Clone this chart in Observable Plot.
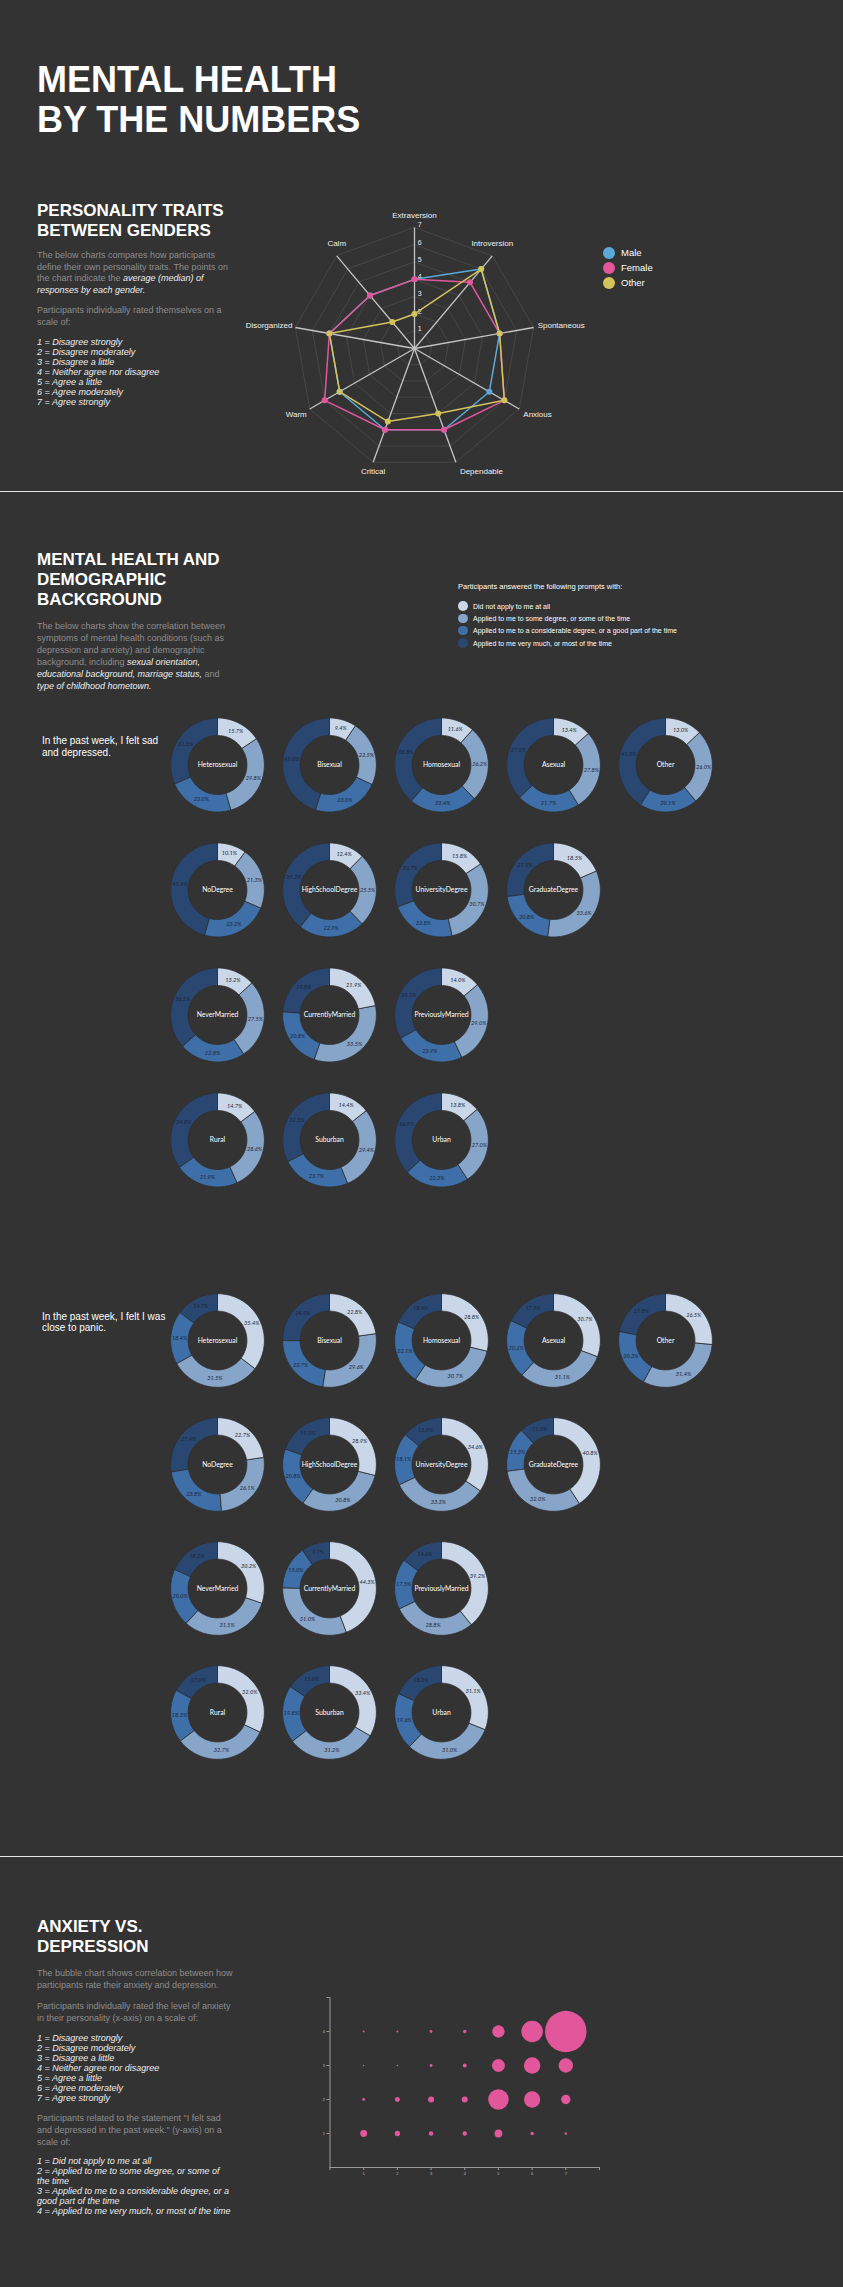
<!DOCTYPE html>
<html><head><meta charset="utf-8">
<script src="https://cdn.jsdelivr.net/npm/d3@7"></script>
<script src="https://cdn.jsdelivr.net/npm/@observablehq/plot@0.6"></script>
<style>
html,body{margin:0;padding:0;background:#333;}
#page{position:relative;width:843px;height:2287px;background:#333;overflow:hidden;font-family:"Liberation Sans",Arial,Helvetica,sans-serif;}
.abs{position:absolute;}
.title{left:37px;top:59.5px;font-size:36px;line-height:40px;font-weight:bold;color:#fff;white-space:nowrap;}
.h2{left:37px;font-size:17px;line-height:20px;font-weight:bold;color:#fff;white-space:nowrap;}
.p{left:37px;font-size:9px;line-height:11.5px;color:#8d8d8d;white-space:nowrap;}
.p i{color:#eee;}
.p12{line-height:12px;}
.list{left:37px;font-size:9px;line-height:10px;font-style:italic;color:#eee;white-space:nowrap;}
.hr{left:0;width:843px;height:1px;background:#e6e6e6;}
.blabel{left:42px;font-size:10px;line-height:11.5px;color:#fff;white-space:nowrap;}
.leg{display:flex;align-items:center;white-space:nowrap;}
.dotc{display:inline-block;border-radius:50%;}
</style></head><body><div id="page">

<div class="abs title">MENTAL HEALTH<br>BY THE NUMBERS</div>

<div class="abs h2" style="top:201px">PERSONALITY TRAITS<br>BETWEEN GENDERS</div>
<div class="abs p" style="top:250.4px">The below charts compares how participants<br>define their own personality traits. The points on<br>the chart indicate the <i>average (median) of<br>responses by each gender.</i></div>
<div class="abs p" style="top:303.5px;line-height:12.3px">Participants individually rated themselves on a<br>scale of:</div>
<div class="abs list" style="top:337.4px">1 = Disagree strongly<br>2 = Disagree moderately<br>3 = Disagree a little<br>4 = Neither agree nor disagree<br>5 = Agree a little<br>6 = Agree moderately<br>7 = Agree strongly</div>
<div id="radar" class="abs" style="left:214px;top:198px"></div>
<div id="radarLegend" class="abs" style="left:603px;top:245px"></div>

<div class="abs hr" style="top:491px"></div>

<div class="abs h2" style="top:550px">MENTAL HEALTH AND<br>DEMOGRAPHIC<br>BACKGROUND</div>
<div class="abs p p12" style="top:620.4px">The below charts show the correlation between<br>symptoms of mental health conditions (such as<br>depression and anxiety) and demographic<br>background, including <i>sexual orientation,<br>educational background, marriage status,</i> and<br><i>type of childhood hometown.</i></div>
<div id="donutLegend" class="abs" style="left:458px;top:581.5px"></div>

<div class="abs blabel" style="top:735px">In the past week, I felt sad<br>and depressed.</div>
<div id="block1" class="abs" style="left:0;top:701.8px"></div>
<div class="abs blabel" style="top:1310.5px">In the past week, I felt I was<br>close to panic.</div>
<div id="block2" class="abs" style="left:0;top:1276.75px"></div>

<div class="abs hr" style="top:1856px"></div>

<div class="abs h2" style="top:1917px">ANXIETY VS.<br>DEPRESSION</div>
<div class="abs p p12" style="top:1967.2px">The bubble chart shows correlation between how<br>participants rate their anxiety and depression.</div>
<div class="abs p p12" style="top:2000.2px">Participants individually rated the level of anxiety<br>in their personality (x-axis) on a scale of:</div>
<div class="abs list" style="top:2032.5px">1 = Disagree strongly<br>2 = Disagree moderately<br>3 = Disagree a little<br>4 = Neither agree nor disagree<br>5 = Agree a little<br>6 = Agree moderately<br>7 = Agree strongly</div>
<div class="abs p p12" style="top:2112.2px">Participants related to the statement "I felt sad<br>and depressed in the past week." (y-axis) on a<br>scale of:</div>
<div class="abs list" style="top:2155.9px">1 = Did not apply to me at all<br>2 = Applied to me to some degree, or some of<br>the time<br>3 = Applied to me to a considerable degree, or a<br>good part of the time<br>4 = Applied to me very much, or most of the time</div>
<div id="bubble" class="abs" style="left:300px;top:1980px"></div>

</div>
<script>
// ---------- DATA ----------
const traits = ["Extraversion","Introversion","Spontaneous","Anxious","Dependable","Critical","Warm","Disorganized","Calm"];
const genders = ["Male","Female","Other"];
const genderColors = ["#5aa9d8","#e2579b","#d3c35b"];
const maleMedians   = [4, 6, 5, 5, 5, 5, 5, 5, 4];
const femaleMedians = [4, 5, 5, 6, 5, 5, 6, 5, 4];
const otherMedians  = [2, 6, 5, 6, 4, 4.5, 5, 5, 2];
const radarTicks = [1,2,3,4,5,6,7];

const levels = ["Did not apply to me at all","Applied to me to some degree, or some of the time","Applied to me to a considerable degree, or a good part of the time","Applied to me very much, or most of the time"];
const levelColors = ["#c9d7e8","#87a4c9","#3e6fa8","#294771"];

const orientations = ["Heterosexual","Bisexual","Homosexual","Asexual","Other"];
const education = ["NoDegree","HighSchoolDegree","UniversityDegree","GraduateDegree"];
const marriage = ["NeverMarried","CurrentlyMarried","PreviouslyMarried"];
const hometown = ["Rural","Suburban","Urban"];

// "In the past week, I felt sad and depressed." (%)
const sadOrientation = [[15.7,29.8,23.0,31.5],[9.4,22.5,23.0,45.0],[11.6,26.2,23.4,38.8],[13.4,27.8,21.7,37.0],[13.0,26.0,20.1,41.0]];
const sadEducation = [[10.1,21.3,23.2,45.4],[12.4,25.5,22.9,39.2],[15.8,30.7,22.8,30.7],[18.5,33.6,20.8,27.1]];
const sadMarriage = [[13.2,27.5,22.8,36.5],[21.9,33.5,20.8,23.8],[14.0,29.0,23.9,33.1]];
const sadHometown = [[14.7,28.6,21.9,34.8],[14.4,29.4,23.7,32.5],[13.8,27.0,22.3,36.9]];

// "In the past week, I felt I was close to panic." (%)
const panicOrientation = [[35.4,31.5,18.4,14.7],[22.8,29.6,22.7,24.9],[28.8,30.7,22.1,18.4],[30.7,31.1,20.2,17.9],[26.5,31.4,20.3,21.8]];
const panicEducation = [[22.7,26.1,23.8,27.4],[28.9,30.8,20.8,19.5],[34.6,33.3,18.1,13.9],[40.8,32.0,15.3,11.9]];
const panicMarriage = [[30.2,31.5,20.0,18.2],[44.3,31.0,15.0,9.7],[39.2,28.8,17.5,14.6]];
const panicHometown = [[32.0,32.7,18.3,17.0],[33.4,31.2,19.8,15.6],[31.1,31.0,19.6,18.3]];

// Bubble chart: anxiety (x) vs depression (y), relative counts
const anxietyLevels = [1,2,3,4,5,6,7];
const depressionLevels = [1,2,3,4];
const bubbleCounts = [
  [12, 7, 5, 5, 15, 3, 1.5],     // depression 1
  [2, 6, 9, 9, 105, 66, 22],     // depression 2
  [0.5, 0.6, 2, 4, 42, 68, 52],  // depression 3
  [1, 1, 2, 3, 38, 116, 428]     // depression 4
];

// ---------- RADAR ----------
(function(){
  const U = 121/7; // px per unit
  const W = 400, H = 300;
  const n = traits.length;
  const ang = i => i * 2 * Math.PI / n;
  const medians = [maleMedians, femaleMedians, otherMedians];
  const rings = radarTicks.flatMap(l => traits.map((t,i) => ({level:l, x:l*Math.sin(ang(i)), y:l*Math.cos(ang(i))})));
  const spokes = traits.map((t,i) => ({t, x2:7*Math.sin(ang(i)), y2:7*Math.cos(ang(i))}));
  const pts = genders.flatMap((g,gi) => traits.map((t,i) => ({gender:g, trait:t, v:medians[gi][i], x:medians[gi][i]*Math.sin(ang(i)), y:medians[gi][i]*Math.cos(ang(i))})));
  const lab = traits.map((t,i) => {
    const s = Math.sin(ang(i)), c = Math.cos(ang(i));
    let anchor, dx, dy;
    if (c > 0.5) { anchor = "middle"; dx = 0; dy = -12; }
    else if (s > 0.01) { anchor = "start"; dx = 4; dy = -c*10; }
    else if (c < -0.9) { anchor = "middle"; dx = 0; dy = 9; }
    else { anchor = "end"; dx = -3; dy = -c*10; }
    return {t, anchor, x: 7*s + dx/U, y: 7*c - dy/U};
  });
  const txt = a => Plot.text(lab.filter(d => d.anchor === a), {x:"x", y:"y", text:"t", textAnchor:a, fill:"#f0f0f0", fontSize:8});
  const chart = Plot.plot({
    width: W, height: H, margin: 0,
    x: {domain:[-W/2/U, W/2/U], axis:null},
    y: {domain:[-H/2/U, H/2/U], axis:null},
    color: {domain: genders, range: genderColors},
    style: {background:"transparent", fontFamily:"'Liberation Sans', Arial, sans-serif"},
    marks: [
      Plot.line(rings, {x:"x", y:"y", z:"level", curve:"linear-closed", stroke:"#4b4b4b", strokeWidth:0.8}),
      Plot.link(spokes, {x1:0, y1:0, x2:"x2", y2:"y2", stroke:"#c4c4c4", strokeWidth:1.3}),
      Plot.text(radarTicks, {x:0, y:d => d, text:d => String(d), dx:3.3, dy:-2.5, textAnchor:"start", fill:"#eee", fontSize:7}),
      Plot.line(pts, {x:"x", y:"y", z:"gender", stroke:"gender", curve:"linear-closed", strokeWidth:1.5}),
      Plot.dot(pts, {x:"x", y:"y", fill:"gender", r:3}),
      txt("middle"), txt("start"), txt("end")
    ]
  });
  document.getElementById("radar").appendChild(chart);
  const lg = document.getElementById("radarLegend");
  genders.forEach((g,i) => {
    const row = document.createElement("div");
    row.className = "leg";
    row.style.cssText = "height:15px;font-size:9.5px;color:#fff;";
    row.innerHTML = `<span class="dotc" style="width:12px;height:12px;background:${genderColors[i]};margin-right:6px"></span>${g}`;
    lg.appendChild(row);
  });
})();

// ---------- DONUT LEGEND ----------
(function(){
  const lg = document.getElementById("donutLegend");
  const head = document.createElement("div");
  head.style.cssText = "font-size:7.5px;line-height:10px;color:#fff;height:18.5px;white-space:nowrap";
  head.textContent = "Participants answered the following prompts with:";
  lg.appendChild(head);
  levels.forEach((l,i) => {
    const row = document.createElement("div");
    row.className = "leg";
    row.style.cssText = "height:12.3px;font-size:7px;color:#fff;";
    row.innerHTML = `<span class="dotc" style="width:9.5px;height:9.5px;background:${levelColors[i]};margin-left:0px;margin-right:5.5px"></span>${l}`;
    lg.appendChild(row);
  });
})();

// ---------- DONUTS ----------
function donutBlock(rowCats, rowVals, pitch) {
  const RIN = 29.5/47;
  const polys = [], labels = [], names = [];
  rowCats.forEach((cats, row) => cats.forEach((cat, col) => {
    const vals = rowVals[row][col];
    const total = d3.sum(vals);
    let a = 0;
    vals.forEach((v, k) => {
      const a0 = a, a1 = a + v / total * 2 * Math.PI; a = a1;
      const n = Math.max(2, Math.ceil((a1 - a0) / (Math.PI / 90)));
      const key = `${row}-${col}-${k}`;
      for (let j = 0; j <= n; j++) { const t = a0 + (a1 - a0) * j / n; polys.push({key, row, col, level:levels[k], x:Math.sin(t), y:Math.cos(t)}); }
      for (let j = n; j >= 0; j--) { const t = a0 + (a1 - a0) * j / n; polys.push({key, row, col, level:levels[k], x:RIN*Math.sin(t), y:RIN*Math.cos(t)}); }
      const m = (a0 + a1) / 2, rm = (1 + RIN) / 2;
      labels.push({row, col, x:rm*Math.sin(m), y:rm*Math.cos(m), text:v.toFixed(1) + "%"});
    });
    names.push({row, col, name:cat});
  }));
  const cell = 112.3, unit = 47, left = 160.25;
  return Plot.plot({
    width: 843, height: pitch * 4,
    marginLeft: left, marginRight: 843 - left - 5 * cell, marginTop: 0, marginBottom: 0,
    fx: {domain:[0,1,2,3,4], padding:0, axis:null},
    fy: {domain:[0,1,2,3], padding:0, axis:null},
    x: {domain:[-cell/2/unit, cell/2/unit], axis:null},
    y: {domain:[-pitch/2/unit, pitch/2/unit], axis:null},
    color: {domain: levels, range: levelColors},
    style: {background:"transparent", fontFamily:"Lato, 'Open Sans', sans-serif"},
    marks: [
      Plot.line(polys, {x:"x", y:"y", z:"key", fill:"level", stroke:"#2f2f2f", strokeWidth:0.8, curve:"linear-closed", fx:"col", fy:"row"}),
      Plot.text(labels, {x:"x", y:"y", text:"text", fx:"col", fy:"row", fill:"#1d2536", fontSize:5.6, fontStyle:"italic"}),
      Plot.text(names, {x:0, y:0, text:"name", fx:"col", fy:"row", fill:"#fff", fontSize:6.8})
    ]
  });
}
document.getElementById("block1").appendChild(donutBlock([orientations, education, marriage, hometown], [sadOrientation, sadEducation, sadMarriage, sadHometown], 125));
document.getElementById("block2").appendChild(donutBlock([orientations, education, marriage, hometown], [panicOrientation, panicEducation, panicMarriage, panicHometown], 124.5));

// ---------- BUBBLES ----------
(function(){
  const cells = depressionLevels.flatMap((dl, yi) => anxietyLevels.map((al, xi) => ({anxiety:al, depression:dl, count:bubbleCounts[yi][xi]})));
  const chart = Plot.plot({
    width: 320, height: 210,
    marginLeft: 29.5, marginRight: 21, marginTop: 17, marginBottom: 23,
    x: {domain:[0,8], axis:null},
    y: {domain:[0,5], axis:null},
    r: {type:"sqrt", domain:[0, d3.max(bubbleCounts.flat())], range:[0, 20.7]},
    style: {background:"transparent", color:"#bbb", fontSize:"4px", fontFamily:"'Liberation Sans', Arial, sans-serif"},
    marks: [
      Plot.ruleY([0], {stroke:"#9a9a9a", strokeWidth:1}),
      Plot.ruleX([0], {stroke:"#9a9a9a", strokeWidth:1}),
      Plot.axisX(anxietyLevels, {label:null, tickSize:3, tickPadding:2, stroke:"#9a9a9a", fill:"#bbb"}),
      Plot.axisX([0,8], {label:null, tickSize:3, tickFormat:() => "", stroke:"#9a9a9a"}),
      Plot.axisY(depressionLevels, {label:null, tickSize:3, tickPadding:2, stroke:"#9a9a9a", fill:"#bbb"}),
      Plot.axisY([5], {label:null, tickSize:3, tickFormat:() => "", stroke:"#9a9a9a"}),
      Plot.dot(cells, {x:"anxiety", y:"depression", r:"count", fill:"#e2579b", stroke:"none"})
    ]
  });
  document.getElementById("bubble").appendChild(chart);
})();
</script>
</body></html>
